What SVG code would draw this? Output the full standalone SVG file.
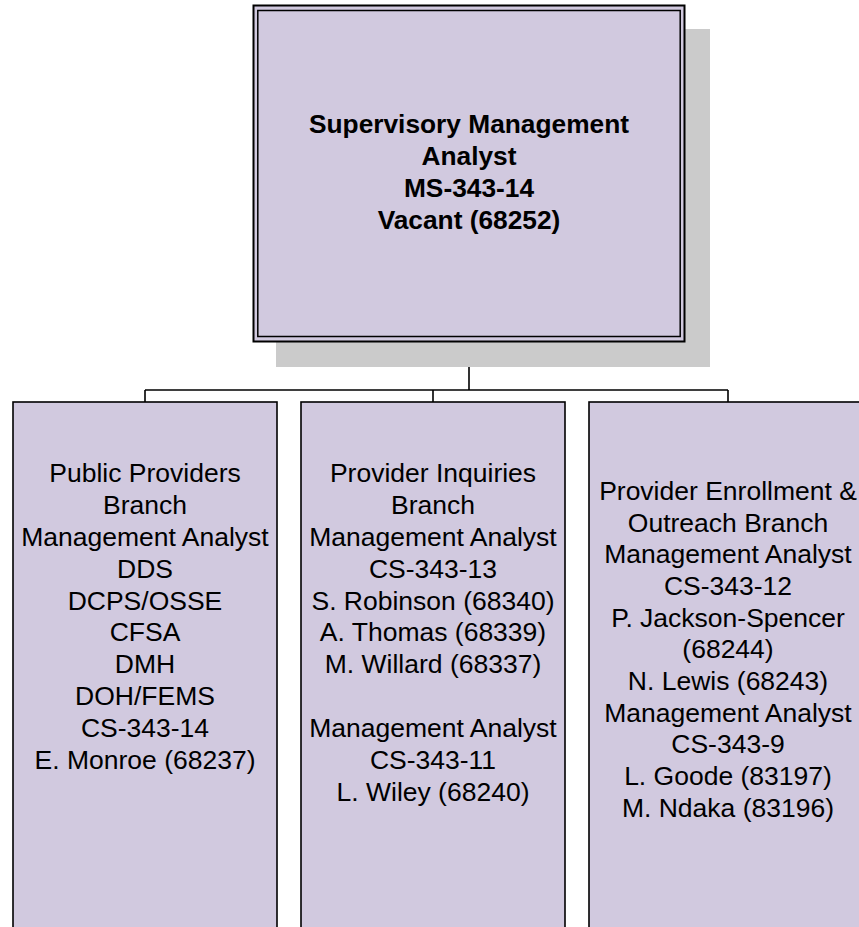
<svg xmlns="http://www.w3.org/2000/svg" width="859" height="927" viewBox="0 0 859 927">
<style>
.box{fill:#d1c9df;stroke:#000;stroke-width:1.6}
.t{font-family:"Liberation Sans",Arial,sans-serif;font-size:26.5px;fill:#000;text-anchor:middle}
.b{font-family:"Liberation Sans",Arial,sans-serif;font-size:26.3px;font-weight:bold;fill:#000;text-anchor:middle}
.c{fill:none;stroke:#000;stroke-width:1.6}
</style>
<rect x="0" y="0" width="859" height="927" fill="#fff"/>
<g id="connectors">
<path class="c" d="M469 342V390M145 390H728M145 390V402M433 390V402M728 390V402"/>
</g>
<g id="top">
<rect x="276" y="29" width="434" height="338" fill="#cbcbcb"/>
<rect x="253.5" y="5.5" width="431" height="336" fill="#d1c9df" stroke="#000" stroke-width="2"/>
<rect x="257.8" y="10.5" width="422.4" height="326" fill="none" stroke="#000" stroke-width="1.5"/>
<text class="b" x="469" y="133">Supervisory Management</text>
<text class="b" x="469" y="165">Analyst</text>
<text class="b" x="469" y="197">MS-343-14</text>
<text class="b" x="469" y="229">Vacant (68252)</text>
</g>
<g id="public-providers">
<rect class="box" x="13" y="402" width="264" height="540"/>
<text class="t" x="145" y="482">Public Providers</text>
<text class="t" x="145" y="514">Branch</text>
<text class="t" x="145" y="546">Management Analyst</text>
<text class="t" x="145" y="578">DDS</text>
<text class="t" x="145" y="610">DCPS/OSSE</text>
<text class="t" x="145" y="641">CFSA</text>
<text class="t" x="145" y="673">DMH</text>
<text class="t" x="145" y="705">DOH/FEMS</text>
<text class="t" x="145" y="737">CS-343-14</text>
<text class="t" x="145" y="769">E. Monroe (68237)</text>
</g>
<g id="provider-inquiries">
<rect class="box" x="301" y="402" width="264" height="540"/>
<text class="t" x="433" y="482">Provider Inquiries</text>
<text class="t" x="433" y="514">Branch</text>
<text class="t" x="433" y="546">Management Analyst</text>
<text class="t" x="433" y="578">CS-343-13</text>
<text class="t" x="433" y="610">S. Robinson (68340)</text>
<text class="t" x="433" y="641">A. Thomas (68339)</text>
<text class="t" x="433" y="673">M. Willard (68337)</text>
<text class="t" x="433" y="737">Management Analyst</text>
<text class="t" x="433" y="769">CS-343-11</text>
<text class="t" x="433" y="801">L. Wiley (68240)</text>
</g>
<g id="provider-enrollment">
<rect class="box" x="589" y="402" width="278" height="540"/>
<text class="t" x="728" y="500">Provider Enrollment &amp;</text>
<text class="t" x="728" y="532">Outreach Branch</text>
<text class="t" x="728" y="563">Management Analyst</text>
<text class="t" x="728" y="595">CS-343-12</text>
<text class="t" x="728" y="627">P. Jackson-Spencer</text>
<text class="t" x="728" y="658">(68244)</text>
<text class="t" x="728" y="690">N. Lewis (68243)</text>
<text class="t" x="728" y="722">Management Analyst</text>
<text class="t" x="728" y="753">CS-343-9</text>
<text class="t" x="728" y="785">L. Goode (83197)</text>
<text class="t" x="728" y="817">M. Ndaka (83196)</text>
</g>
</svg>
